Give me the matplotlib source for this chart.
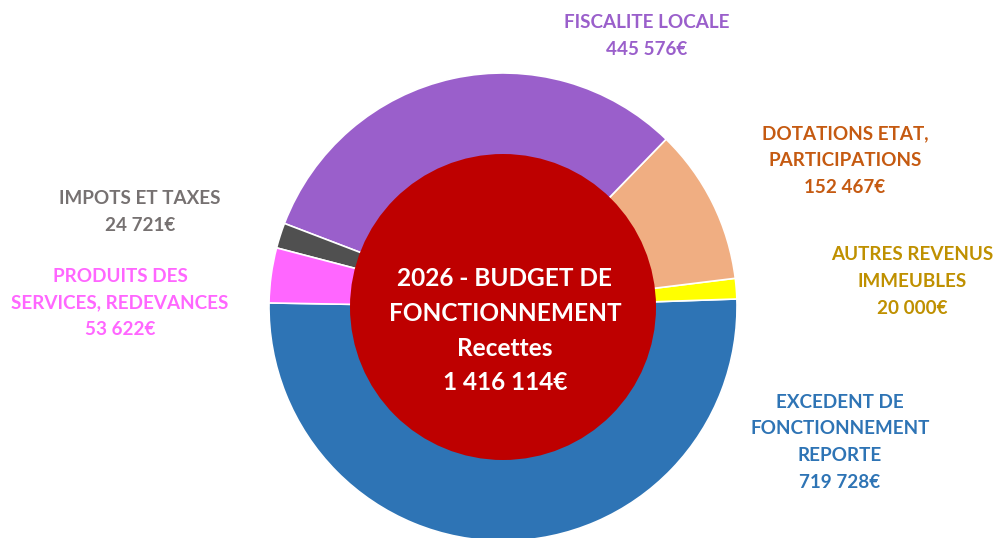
import matplotlib.pyplot as plt
from matplotlib.patches import Circle

# data (counterclockwise from the left, through the bottom)
labels = ["EXCEDENT DE\nFONCTIONNEMENT\nREPORTE", "AUTRES REVENUS\nIMMEUBLES",
          "DOTATIONS ETAT,\nPARTICIPATIONS", "FISCALITE LOCALE",
          "IMPOTS ET TAXES", "PRODUITS DES\nSERVICES, REDEVANCES"]
values = [719728, 20000, 152467, 445576, 24721, 53622]
slice_colors = ["#2E74B5", "#FFFF00", "#F0AE82", "#9A5FCB", "#505050", "#FF66FF"]
text_colors = ["#2E74B5", "#BF9000", "#C55A11", "#9A5FCB", "#767171", "#FF66FF"]
# label centres in pixels (x, top-line y)
label_pos = [(840, 402), (912, 255), (845, 134), (647, 23), (140, 199), (120, 276)]
total = sum(values)


def euro(v):
    s = f"{v:,}".replace(",", " ")
    return s + "€"


W, H = 998, 538
fig = plt.figure(figsize=(W / 100, H / 100), dpi=100)
ax = fig.add_axes([0, 0, 1, 1])

cx, cy = 503, H - 307
ax.pie(values, colors=slice_colors, startangle=179, counterclock=True,
       center=(cx, cy), radius=234, frame=True,
       wedgeprops=dict(edgecolor="white", linewidth=1.2))
ax.set_xlim(0, W)
ax.set_ylim(0, H)
ax.set_aspect("equal")
ax.axis("off")

ax.add_patch(Circle((cx, cy), 153, facecolor="#BE0000", edgecolor="none", zorder=5))

font = "Lato"
center_lines = ["2026 - BUDGET DE", "FONCTIONNEMENT", "Recettes", euro(total)]
for i, line in enumerate(center_lines):
    ax.text(505, H - (279 + i * 34.5), line, ha="center", va="center",
            color="white", fontsize=17.6, fontweight="bold", family=font, zorder=6)

line_h = 26.7
for lab, v, col, (x, y) in zip(labels, values, text_colors, label_pos):
    lines = lab.split("\n") + [euro(v)]
    for i, line in enumerate(lines):
        ax.text(x, H - (y + i * line_h), line, ha="center", va="center",
                color=col, fontsize=13.6, fontweight="bold", family=font)

fig.savefig("out.png", dpi=100)
